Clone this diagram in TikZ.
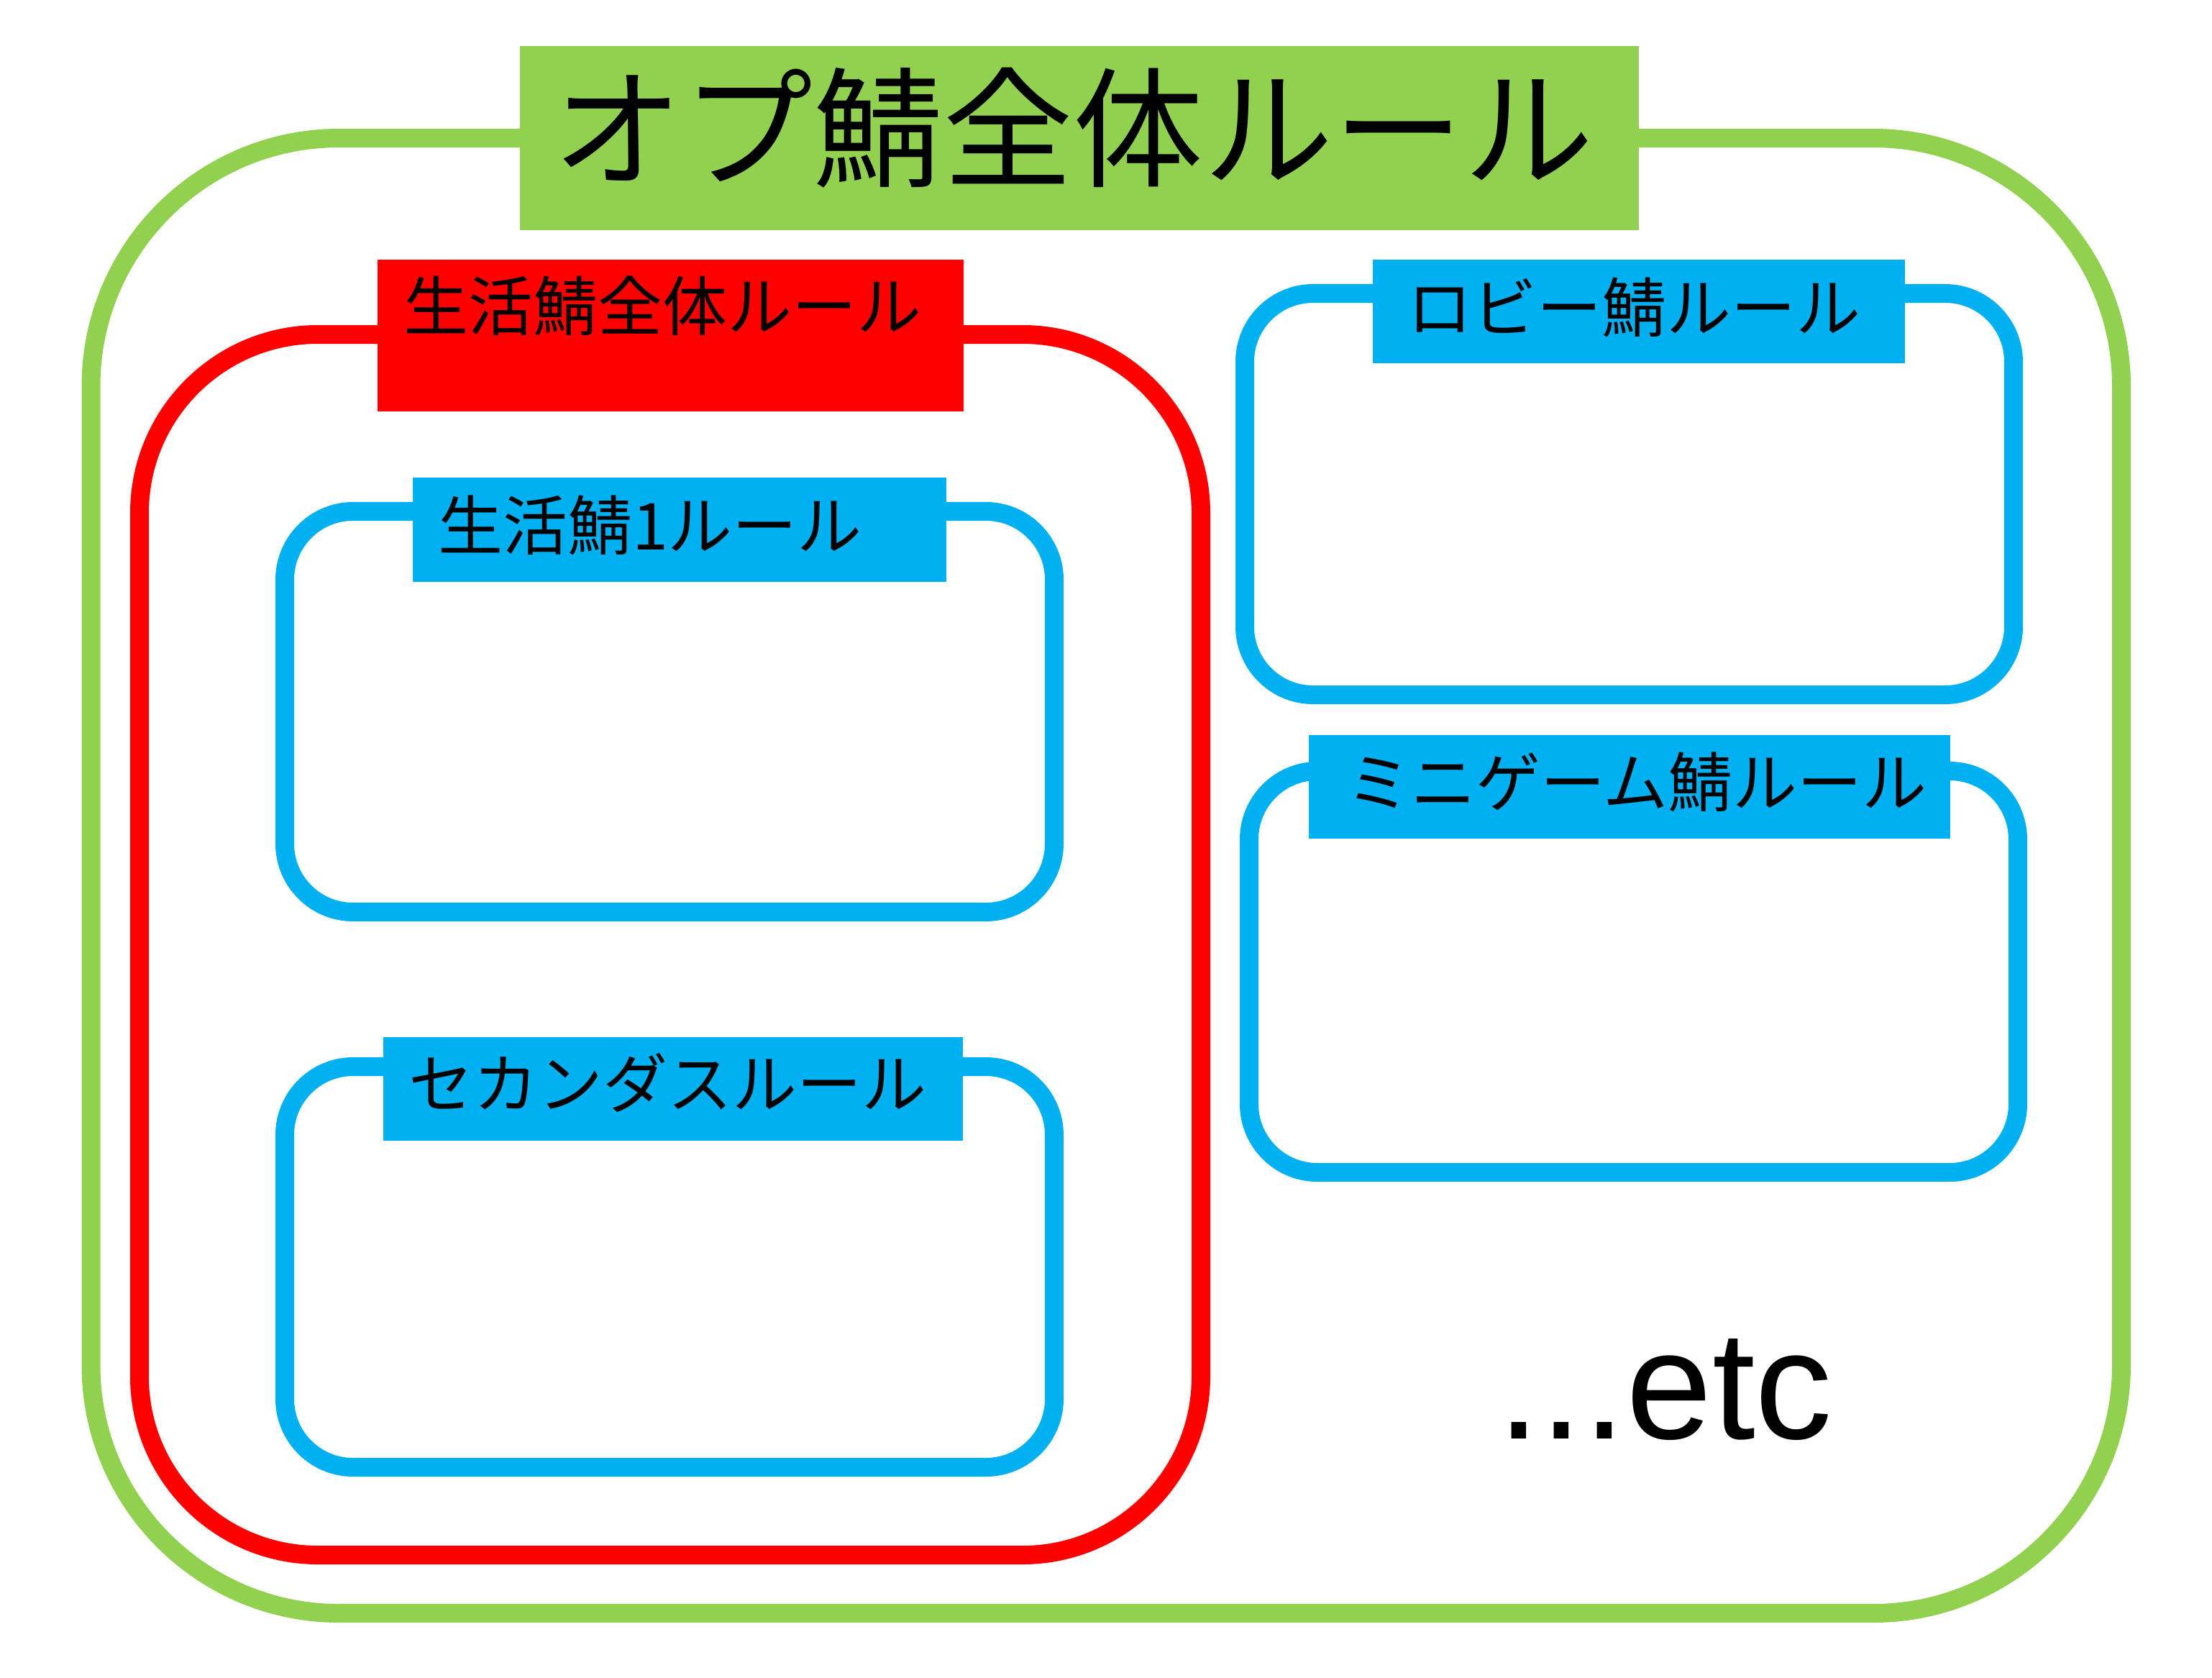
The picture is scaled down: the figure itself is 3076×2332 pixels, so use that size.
\documentclass[tikz,border=0pt]{standalone}
\usepackage{fontspec}
\newfontfamily\jpfont{Noto Sans CJK JP}
\newfontfamily\latinfont{Liberation Sans}
\definecolor{offgreen}{HTML}{92D050}
\definecolor{offred}{HTML}{FF0000}
\definecolor{offblue}{HTML}{00B0F0}
\tikzset{
  frame/.style={line width=26pt},
  tagbox/.style={draw=none, inner sep=0pt, outer sep=0pt, anchor=north west},
  tagtext/.style={inner sep=0pt, outer sep=0pt, anchor=west, font=\jpfont\fontsize{90pt}{100pt}\selectfont},
  titletext/.style={inner sep=0pt, outer sep=0pt, anchor=west, font=\jpfont\fontsize{181pt}{200pt}\selectfont},
}
\begin{document}
\begin{tikzpicture}[x=1pt, y=-1pt]
\fill[white] (0,0) rectangle (3076,2332);
\useasboundingbox (0,0) rectangle (3076,2332);

% outer green frame
\draw[frame, offgreen, rounded corners=345pt] (126.5,192) rectangle (2950,2243);
\node[tagbox, fill=offgreen, minimum width=1556pt, minimum height=256pt] (titlebox) at (723,64) {};
\node[titletext] (title) at ([xshift=45pt, yshift=-114pt]titlebox.north west) {オプ鯖全体ルール};

% red frame
\draw[frame, offred, rounded corners=248pt] (194,465) rectangle (1670,2162);
\node[tagbox, fill=offred, minimum width=815pt, minimum height=211pt] (lifebox) at (525,361) {};
\node[tagtext] (life) at ([xshift=36pt, yshift=-64pt]lifebox.north west) {生活鯖全体ルール};

% blue frames
\draw[frame, offblue, rounded corners=95pt] (396,711) rectangle (1466,1268);
\node[tagbox, fill=offblue, minimum width=742pt, minimum height=145pt] (life1box) at (574,664) {};
\node[tagtext] (life1) at ([xshift=35pt, yshift=-66pt]life1box.north west) {生活鯖1ルール};

\draw[frame, offblue, rounded corners=95pt] (396,1483) rectangle (1466,2040);
\node[tagbox, fill=offblue, minimum width=806pt, minimum height=144pt] (secbox) at (533,1442) {};
\node[tagtext] (sec) at ([xshift=35pt, yshift=-63pt]secbox.north west) {セカンダスルール};

\draw[frame, offblue, rounded corners=95pt] (1731,408) rectangle (2800,966);
\node[tagbox, fill=offblue, minimum width=740pt, minimum height=144pt] (lobbybox) at (1909,361) {};
\node[tagtext] (lobby) at ([xshift=48pt, yshift=-66pt]lobbybox.north west) {ロビー鯖ルール};

\draw[frame, offblue, rounded corners=95pt] (1737,1072) rectangle (2806,1630);
\node[tagbox, fill=offblue, minimum width=892pt, minimum height=144pt] (minibox) at (1820,1022) {};
\node[tagtext] (mini) at ([xshift=52pt, yshift=-65pt]minibox.north west) {ミニゲーム鯖ルール};

% etc
\node[inner sep=0pt, anchor=base west, font=\latinfont\fontsize{215pt}{240pt}\selectfont] (etc) at (2082,2000) {...etc};
\end{tikzpicture}
\end{document}
